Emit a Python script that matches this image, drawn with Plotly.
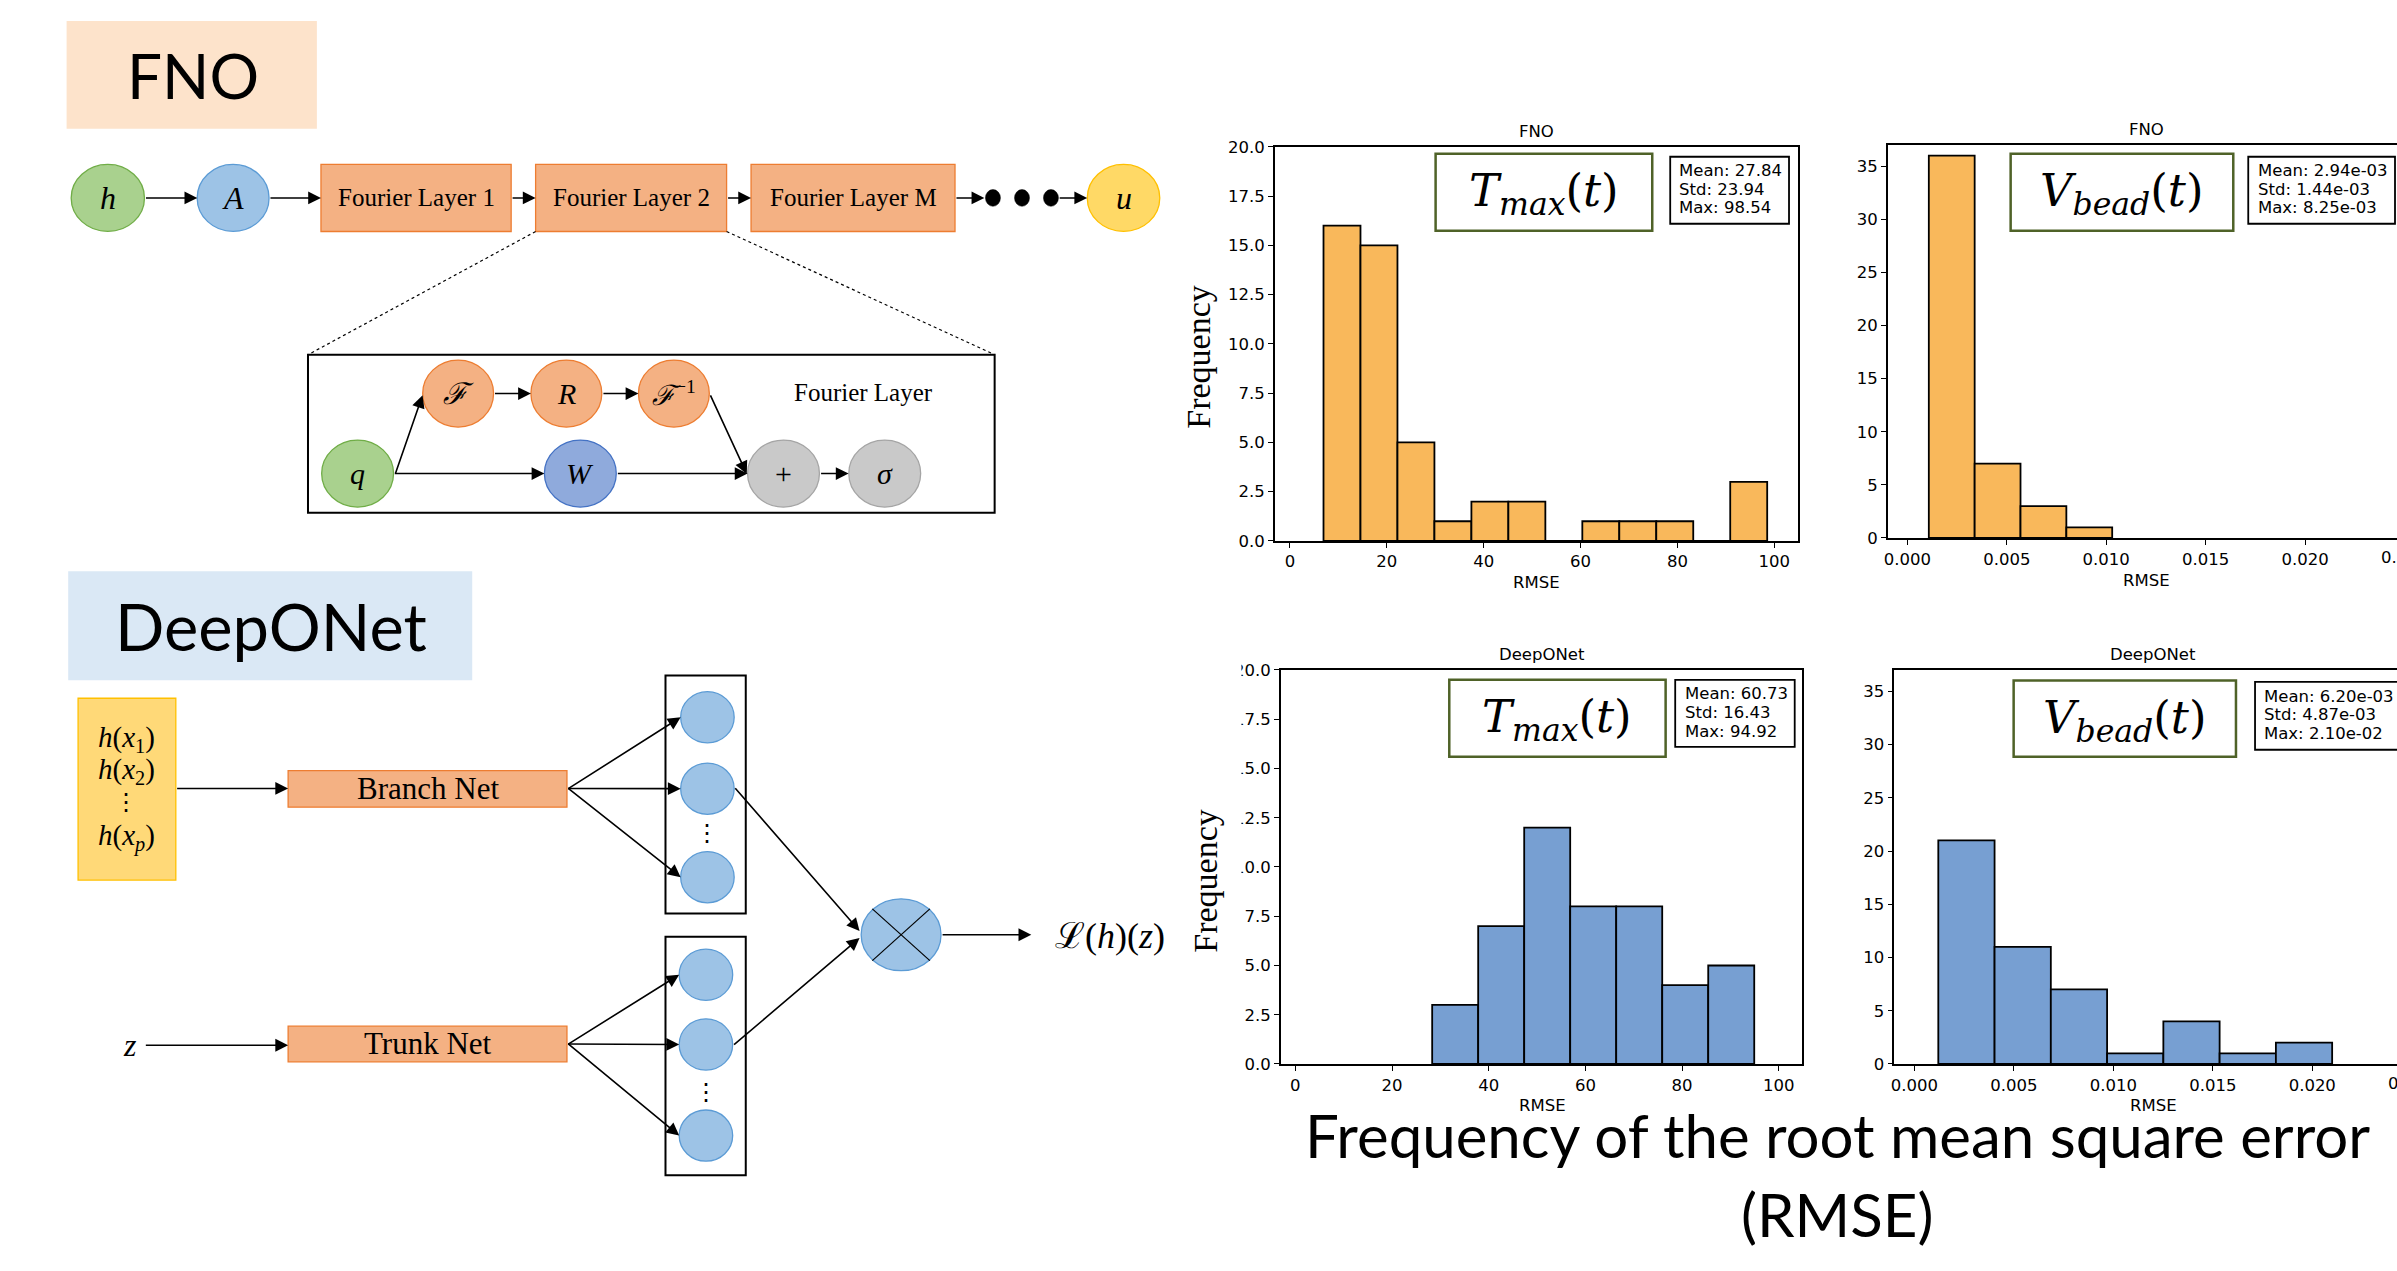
import numpy as np
import plotly.graph_objects as go

W, H = 2397, 1271

# ---------------- histogram data ----------------
fno_tmax_counts = [16, 15, 5, 1, 2, 2, 0, 1, 1, 1, 0, 3]
fno_tmax_bins = [6.94, 98.54]
fno_vbead_counts = [36, 7, 3, 1]
fno_vbead_bins = [0.00108, 0.01030]
deeponet_tmax_counts = [3, 7, 12, 8, 8, 4, 5]
deeponet_tmax_bins = [28.30, 94.92]
deeponet_vbead_counts = [21, 11, 7, 1, 4, 1, 2]
deeponet_vbead_bins = [0.00120, 0.02100]

fno_tmax_stats = ["Mean: 27.84", "Std: 23.94", "Max: 98.54"]
fno_vbead_stats = ["Mean: 2.94e-03", "Std: 1.44e-03", "Max: 8.25e-03"]
deeponet_tmax_stats = ["Mean: 60.73", "Std: 16.43", "Max: 94.92"]
deeponet_vbead_stats = ["Mean: 6.20e-03", "Std: 4.87e-03", "Max: 2.10e-02"]

tmax_xticks = [0, 20, 40, 60, 80, 100]
tmax_yticks = [0, 2.5, 5, 7.5, 10, 12.5, 15, 17.5, 20]
vbead_xticks = [0.0, 0.005, 0.010, 0.015, 0.020]
vbead_yticks = [0, 5, 10, 15, 20, 25, 30, 35]

ORANGE = "#F9B85B"
BLUE = "#779FD2"

# ---------------- helpers (pixel -> paper) ----------------
def fx(px):
    return px / W

def fy(py):
    return 1 - py / H

shapes = []
annos = []

def rect(x0, y0, x1, y1, fill="rgba(0,0,0,0)", line="black", lw=1.5, dash=None):
    ln = dict(color=line, width=lw) if lw > 0 else dict(width=0)
    if dash:
        ln["dash"] = dash
    shapes.append(dict(type="rect", xref="paper", yref="paper", x0=fx(x0), x1=fx(x1),
                       y0=fy(y1), y1=fy(y0), fillcolor=fill, line=ln, layer="above"))

def ellipse(cx, cy, rx, ry, fill, line, lw=1.3):
    shapes.append(dict(type="circle", xref="paper", yref="paper", x0=fx(cx - rx), x1=fx(cx + rx),
                       y0=fy(cy + ry), y1=fy(cy - ry), fillcolor=fill,
                       line=dict(color=line, width=lw), layer="above"))

def seg(x0, y0, x1, y1, color="black", lw=1.5, dash=None):
    ln = dict(color=color, width=lw)
    if dash:
        ln["dash"] = dash
    shapes.append(dict(type="line", xref="paper", yref="paper", x0=fx(x0), y0=fy(y0),
                       x1=fx(x1), y1=fy(y1), line=ln, layer="above"))

def arrow(x0, y0, x1, y1, lw=1.6):
    annos.append(dict(xref="paper", yref="paper", x=fx(x1), y=fy(y1), ax=x0 - x1, ay=y0 - y1,
                      axref="pixel", ayref="pixel", showarrow=True, arrowhead=2, arrowsize=1.6,
                      arrowwidth=lw, arrowcolor="black", text="", standoff=0, startstandoff=0))

def text(x, y, s, size, family="Liberation Serif", color="black", xanchor="center",
         yanchor="middle", angle=0):
    annos.append(dict(xref="paper", yref="paper", x=fx(x), y=fy(y), text=s, showarrow=False,
                      font=dict(family=family, size=size, color=color),
                      xanchor=xanchor, yanchor=yanchor, textangle=angle))

# ---------------- FNO diagram ----------------
rect(62.7, 12.2, 313.4, 121.5, fill="#FDE3CB", lw=0)
text(189.7, 67, "FNO", 62, family="Lato")

GREEN, GREEN_L = "#A9D18E", "#70AD47"
LBLUE, LBLUE_L = "#9DC3E6", "#5B9BD5"
SALMON, SALMON_L = "#F4B183", "#ED7D31"
YEL, YEL_L = "#FFD966", "#FFC000"
GRAY, GRAY_L = "#C9C9C9", "#A5A5A5"
DBLUE, DBLUE_L = "#8FAADC", "#4472C4"

cy = 191.8
ellipse(104, cy, 36.7, 34, GREEN, GREEN_L)
ellipse(229.5, cy, 36, 34, LBLUE, LBLUE_L)
rect(317.5, 157.8, 508, 225.9, fill=SALMON, line=SALMON_L, lw=1.3)
rect(532.5, 157.8, 723.8, 225.9, fill=SALMON, line=SALMON_L, lw=1.3)
rect(748.3, 157.8, 952.6, 225.9, fill=SALMON, line=SALMON_L, lw=1.3)
for dx in [990.6, 1019.7, 1048.7]:
    ellipse(dx, cy, 7.5, 8.5, "black", "black", lw=0.5)
ellipse(1121.4, cy, 36.3, 34, YEL, YEL_L)
text(104, cy, "<i>h</i>", 32)
text(229.5, cy, "<i>A</i>", 32)
text(412.7, cy, "Fourier Layer 1", 25)
text(628.1, cy, "Fourier Layer 2", 25)
text(850.5, cy, "Fourier Layer M", 25)
text(1121.4, cy, "<i>u</i>", 32)
arrow(140.8, cy, 193.6, cy)
arrow(265.5, cy, 317.5, cy)
arrow(508, cy, 532.5, cy)
arrow(723.8, cy, 748.3, cy)
arrow(952.6, cy, 982, cy)
arrow(1056, cy, 1085, cy)

seg(532.5, 225.9, 304.5, 351, lw=1.2, dash="dot")
seg(723.8, 225.9, 992.3, 351, lw=1.2, dash="dot")
rect(304.5, 351, 992.3, 511.3, line="black", lw=2)

ry1, ry2 = 390.4, 471.6
ellipse(454.9, ry1, 35.5, 34, SALMON, SALMON_L)
ellipse(563.3, ry1, 35.5, 34, SALMON, SALMON_L)
ellipse(671.0, ry1, 35.5, 34, SALMON, SALMON_L)
ellipse(354.2, ry2, 36, 34, GREEN, GREEN_L)
ellipse(577.3, ry2, 36, 34, DBLUE, DBLUE_L)
ellipse(780.8, ry2, 36, 34, GRAY, GRAY_L)
ellipse(882.2, ry2, 36, 34, GRAY, GRAY_L)
text(454.9, ry1, "<i>ℱ</i>", 30)
text(563.3, ry1, "<i>R</i>", 30)
text(671.0, ry1, "<i>ℱ</i><sup>−1</sup>", 28)
text(354.2, ry2, "<i>q</i>", 30)
text(577.3, ry2, "<i>W</i>", 30)
text(780.8, ry2, "+", 30)
text(882.2, ry2, "<i>σ</i>", 30)
text(860.8, 389, "Fourier Layer", 25)
arrow(391.7, ry2, 419.3, 392)
arrow(390.2, ry2, 541.3, ry2)
arrow(490.4, ry1, 527.8, ry1)
arrow(599, ry1, 635.5, ry1)
arrow(707, 392, 744, 472)
arrow(613.6, ry2, 744.8, ry2)
arrow(817, ry2, 846, ry2)

# ---------------- DeepONet diagram ----------------
rect(64.3, 570.9, 469, 681.5, fill="#DAE8F5", lw=0)
text(267.8, 626, "DeepONet", 65, family="Lato")

rect(74.2, 699.7, 172.1, 884.3, fill="#FFD978", line=YEL_L, lw=1.3)
text(122.4, 741.4, "<i>h</i>(<i>x</i><sub>1</sub>)", 29)
text(122.4, 773.2, "<i>h</i>(<i>x</i><sub>2</sub>)", 29)
text(122.4, 805, "⋮", 24)
text(122.4, 841, "<i>h</i>(<i>x</i><sub><i>p</i></sub>)", 29)
arrow(172.1, 791.3, 284.6, 791.3)
rect(284.6, 773.2, 563.9, 810.3, fill=SALMON, line=SALMON_L, lw=1.3)
text(424.3, 791.8, "Branch Net", 31)
rect(662.6, 676.6, 743, 918.3, line="black", lw=2)
for c in [719, 791.5, 881.4]:
    ellipse(704.6, c, 26.8, 26, LBLUE, LBLUE_L)
    arrow(563.9, 791.3, 677.8, c)
text(704.6, 837, "⋮", 24)

text(126.2, 1052, "<i>z</i>", 32)
arrow(140.8, 1052, 284.6, 1052)
rect(284.6, 1032.6, 563.9, 1068.8, fill=SALMON, line=SALMON_L, lw=1.3)
text(424.3, 1050.7, "Trunk Net", 31)
rect(662.6, 941.8, 743, 1184, line="black", lw=2)
for c in [980.4, 1051.2, 1143.7]:
    ellipse(703.1, c, 26.8, 26, LBLUE, LBLUE_L)
    arrow(563.9, 1050.7, 676.3, c)
text(703.1, 1099, "⋮", 24)

pcx, pcy, prx, pry = 898.6, 939.8, 40, 36.5
ellipse(pcx, pcy, prx, pry, LBLUE, LBLUE_L)
seg(pcx - prx * 0.72, pcy - pry * 0.72, pcx + prx * 0.72, pcy + pry * 0.72, lw=1.2)
seg(pcx - prx * 0.72, pcy + pry * 0.72, pcx + prx * 0.72, pcy - pry * 0.72, lw=1.2)
arrow(731.4, 791.7, 857, 936)
arrow(730, 1051, 857, 943)
arrow(938.8, pcy, 1029, pcy)
text(1107.7, 941, "ℒ(<i>h</i>)(<i>z</i>)", 36)

# ---------------- histograms ----------------
fig = go.Figure()

def bars(counts, rng, color, xa, ya):
    n = len(counts)
    edges = np.linspace(rng[0], rng[1], n + 1)
    centers = (edges[:-1] + edges[1:]) / 2
    widths = np.diff(edges)
    return go.Bar(x=centers, y=counts, width=widths, xaxis=xa, yaxis=ya,
                  marker=dict(color=color, line=dict(color="black", width=1.8)),
                  showlegend=False, hoverinfo="skip")

fig.add_trace(bars(fno_tmax_counts, fno_tmax_bins, ORANGE, "x", "y"))
fig.add_trace(bars(fno_vbead_counts, fno_vbead_bins, ORANGE, "x2", "y2"))
fig.add_trace(bars(deeponet_tmax_counts, deeponet_tmax_bins, BLUE, "x3", "y3"))
fig.add_trace(bars(deeponet_vbead_counts, deeponet_vbead_bins, BLUE, "x4", "y4"))

TICKFONT = dict(family="DejaVu Sans", size=16.5, color="black")

def xax(dom_px, rng, ticks, fmt, anchor):
    return dict(domain=[fx(dom_px[0]), fx(dom_px[1])], range=rng, tickvals=ticks, tickformat=fmt,
                showline=True, linecolor="black", linewidth=1.5, mirror=True,
                ticks="outside", ticklen=5, tickwidth=1.3, tickcolor="black",
                showgrid=False, zeroline=False, tickfont=TICKFONT, anchor=anchor, fixedrange=True)

def yax(dom_py, rng, ticks, fmt, anchor, mirror):
    return dict(domain=[fy(dom_py[1]), fy(dom_py[0])], range=rng, tickvals=ticks, tickformat=fmt,
                showline=True, linecolor="black", linewidth=1.5, mirror=mirror,
                ticks="outside", ticklen=5, tickwidth=1.3, tickcolor="black",
                showgrid=False, zeroline=False, tickfont=TICKFONT, anchor=anchor, fixedrange=True)

layout_axes = dict(
    xaxis=xax([1273, 1797], [-3.1, 104.9], tmax_xticks, "d", "y"),
    yaxis=yax([140, 540], [0, 20], tmax_yticks, ".1f", "x", True),
    xaxis2=xax([1887, 2397], [-0.00098, 0.02462], vbead_xticks, ".3f", "y2"),
    yaxis2=yax([138, 537], [0, 37], vbead_yticks, "d", "x2", False),
    xaxis3=xax([1279, 1801], [-3.0, 104.8], tmax_xticks, "d", "y3"),
    yaxis3=yax([671, 1071], [0, 20], tmax_yticks, ".1f", "x3", True),
    xaxis4=xax([1893.5, 2397], [-0.00101, 0.02426], vbead_xticks, ".3f", "y4"),
    yaxis4=yax([671, 1071], [0, 37], vbead_yticks, "d", "x4", False),
)

# cropped tick labels at the left of the lower-left panel
rect(1172, 645, 1239.5, 1095, fill="white", lw=0)

# panel titles / labels
DJ = "DejaVu Sans"
text(1535, 124, "FNO", 16.5, family=DJ)
text(2146, 122, "FNO", 16.5, family=DJ)
text(1540.6, 655, "DeepONet", 16.5, family=DJ)
text(2152.6, 655, "DeepONet", 16.5, family=DJ)
text(1535, 582, "RMSE", 16.5, family=DJ)
text(2146, 580, "RMSE", 16.5, family=DJ)
text(1540.6, 1113, "RMSE", 16.5, family=DJ)
text(2152.6, 1113, "RMSE", 16.5, family=DJ)
text(2404.6, 557, "0.025", 16.5, family=DJ)
text(2411.7, 1091, "0.025", 16.5, family=DJ)
text(1197, 353, "Frequency", 34, angle=-90)
text(1204, 885, "Frequency", 34, angle=-90)

# variable boxes
OLIVE = "#4F6228"
MATH = "DejaVu Serif"
def varbox(x0, y0, x1, y1, s):
    rect(x0, y0, x1, y1, fill="white", line=OLIVE, lw=2.5)
    text((x0 + x1) / 2, (y0 + y1) / 2 + 1, s, 45, family=MATH)

tmax_txt = "<i>T</i><sub><i>max</i></sub>(<i>t</i>)"
vbead_txt = "<i>V</i><sub><i>bead</i></sub>(<i>t</i>)"
varbox(1434, 147, 1651, 225, tmax_txt)
varbox(2010, 147, 2233, 225, vbead_txt)
varbox(1447.7, 681, 1664.4, 759, tmax_txt)
varbox(2013, 681.7, 2235.7, 759, vbead_txt)

def statbox(x0, y0, x1, y1, tx, ty, lines):
    rect(x0, y0, x1, y1, fill="white", line="black", lw=1.8)
    for i, s in enumerate(lines):
        text(tx, ty + i * 19, s, 16.5, family=DJ, xanchor="left")

statbox(1669, 150, 1788, 218, 1676, 164, fno_tmax_stats)
statbox(2248, 150, 2395, 218, 2255.5, 164, fno_vbead_stats)
statbox(1674, 681, 1793.7, 749, 1681.4, 695, deeponet_tmax_stats)
statbox(2254.8, 683, 2402, 752, 2262, 697.7, deeponet_vbead_stats)

# bottom caption
text(1837, 1143, "Frequency of the root mean square error", 60, family="Lato")
text(1837, 1223, "(RMSE)", 60, family="Lato")

fig.update_layout(
    width=W, height=H, margin=dict(l=0, r=0, t=0, b=0),
    paper_bgcolor="white", plot_bgcolor="white",
    shapes=shapes, annotations=annos, showlegend=False,
    **layout_axes,
)

fig.write_html("out.html")
